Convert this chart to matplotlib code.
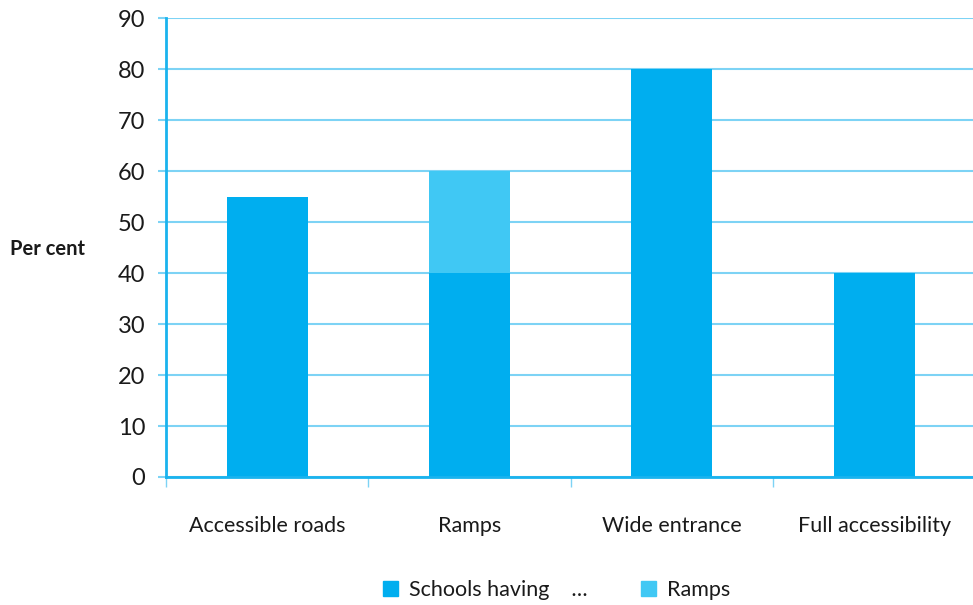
import matplotlib.pyplot as plt
import numpy as np
from matplotlib.patches import Patch

plt.rcParams['font.family'] = ['Lato', 'DejaVu Sans']

categories = ['Accessible roads', 'Ramps', 'Wide entrance', 'Full accessibility']
schools_having = [55, 40, 80, 40]
ramps = [0, 20, 0, 0]
yticks = [0, 10, 20, 30, 40, 50, 60, 70, 80, 90]

dark = '#00aeef'
light = '#40c8f4'
gridc = '#7dd3f5'
axc = '#1ab3ee'

fig = plt.figure(figsize=(9.73, 6.05), dpi=100)
ax = fig.add_axes([0.1706, 0.2116, 0.832, 0.7584])

x = np.arange(len(categories))
ax.bar(x, schools_having, width=0.4, color=dark, zorder=3)
ax.bar(x, ramps, width=0.4, bottom=schools_having, color=light, zorder=3)

ax.set_xlim(-0.5, len(categories) - 0.5)
ax.set_ylim(0, 90)
ax.set_yticks(yticks)
ax.tick_params(axis='y', length=6, width=1.5, color=gridc, labelsize=17, labelcolor='#1a1a1a', pad=9)
ax.yaxis.grid(True, color=gridc, linewidth=1.5, zorder=0)

ax.set_xticks(x)
ax.set_xticklabels(categories)
ax.tick_params(axis='x', length=0, labelsize=15.5, labelcolor='#1a1a1a', pad=28)
ax.set_xticks(np.arange(len(categories) + 1) - 0.5, minor=True)
ax.tick_params(axis='x', which='minor', length=7, width=1, color=gridc)

for s in ['top', 'right']:
    ax.spines[s].set_visible(False)
ax.spines['left'].set_color(axc)
ax.spines['left'].set_linewidth(2)
ax.spines['bottom'].set_color(axc)
ax.spines['bottom'].set_linewidth(2)
ax.spines['bottom'].set_zorder(4)

fig.text(0.010, 0.588, 'Per cent', fontsize=14.5, fontweight='bold', color='#1a1a1a', va='center')

handles = [Patch(color=dark), Patch(color=light)]
fig.legend(handles, ['Schools having    \u2026', 'Ramps'], loc='center', bbox_to_anchor=(0.572, 0.025),
           ncol=2, frameon=False, fontsize=15.5, handlelength=0.7, handleheight=0.7,
           handletextpad=0.5, columnspacing=2.5, labelcolor='#1a1a1a')

fig.savefig('out.png', dpi=100)
